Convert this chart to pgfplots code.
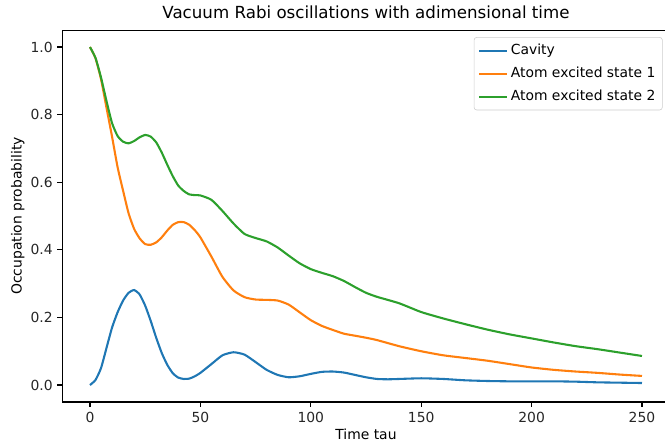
\documentclass[border=0pt]{standalone}
\usepackage{fontspec}
\setmainfont{DejaVu Sans}
\usepackage{pgfplots}
\pgfplotsset{compat=1.18}
\usepackage{pgfplotstable}
\definecolor{c0}{HTML}{1F77B4}
\definecolor{c1}{HTML}{FF7F0E}
\definecolor{c2}{HTML}{2CA02C}
\definecolor{legedge}{gray}{0.8}
\pgfplotstableread{
t v
0 0
2.5 0.015
5 0.05
7.5 0.11
10 0.17
12.5 0.215
15 0.25
17.5 0.273
20 0.281
22.5 0.268
25 0.235
27.5 0.19
30 0.14
32.5 0.095
35 0.06
37.5 0.035
40 0.022
42.5 0.018
45 0.019
47.5 0.026
50 0.036
55 0.062
60 0.088
65 0.097
70 0.09
75 0.068
80 0.045
85 0.03
90 0.023
95 0.026
100 0.033
105 0.039
110 0.04
115 0.037
120 0.03
125 0.023
130 0.018
135 0.017
140 0.018
150 0.02
160 0.018
170 0.014
180 0.012
190 0.011
200 0.011
210 0.011
220 0.01
230 0.008
240 0.007
250 0.006
}\cavity
\pgfplotstableread{
t v
0 1.0
2.5 0.967
5 0.905
7.5 0.82
10 0.735
12.5 0.645
15 0.575
17.5 0.508
20 0.462
22.5 0.434
25 0.417
27.5 0.415
30 0.422
32.5 0.437
35 0.457
37.5 0.474
40 0.482
42.5 0.482
45 0.474
47.5 0.458
50 0.437
55 0.38
60 0.32
65 0.28
70 0.26
75 0.253
80 0.252
85 0.25
90 0.238
95 0.215
100 0.192
105 0.175
110 0.163
115 0.152
120 0.146
125 0.14
130 0.133
140 0.115
150 0.1
160 0.088
170 0.08
180 0.072
190 0.062
200 0.052
210 0.045
220 0.04
230 0.036
240 0.031
250 0.027
}\atomone
\pgfplotstableread{
t v
0 1.0
2.5 0.968
5 0.91
7.5 0.84
10 0.775
12.5 0.737
15 0.72
17.5 0.715
20 0.722
22.5 0.733
25 0.74
27.5 0.735
30 0.718
32.5 0.688
35 0.652
37.5 0.618
40 0.59
42.5 0.574
45 0.564
47.5 0.562
50 0.561
55 0.548
60 0.515
65 0.478
70 0.447
75 0.435
80 0.425
85 0.407
90 0.383
95 0.36
100 0.343
105 0.332
110 0.322
115 0.308
120 0.29
125 0.273
130 0.261
140 0.242
150 0.216
160 0.197
170 0.18
180 0.164
190 0.15
200 0.138
210 0.126
220 0.115
230 0.106
240 0.096
250 0.086
}\atomtwo
\begin{document}
\begin{tikzpicture}
\begin{axis}[
  name=ax,
  scale only axis,
  width=437.2pt, height=267.7pt,
  xmin=-12.5, xmax=262.5, ymin=-0.05, ymax=1.05,
  xtick={0,50,100,150,200,250},
  ytick={0,0.2,0.4,0.6,0.8,1.0},
  yticklabel style={/pgf/number format/.cd, fixed, fixed zerofill, precision=1},
  /pgf/number format/assume math mode=true,
  tick align=outside,
  xtick pos=bottom, ytick pos=left,
  major tick length=3.5pt,
  every tick/.style={line width=0.8pt, black},
  axis line style={line width=0.8pt},
  tick label style={font=\fontsize{10}{12}\selectfont, text=black!85},
  label style={font=\fontsize{10}{12}\selectfont},
  xlabel style={yshift=2pt},
  ylabel style={yshift=-2.5pt},
  title style={font=\fontsize{12}{14}\selectfont, yshift=-1pt},
  title={Vacuum Rabi oscillations with adimensional time},
  xlabel={Time tau},
  ylabel={Occupation probability},
  legend cell align=left,
  legend style={at={(1,1)}, anchor=north east, xshift=-5pt, yshift=-5pt,
    draw=legedge, rounded corners=2pt, font=\fontsize{10}{12}\selectfont,
    row sep=3.5pt, inner xsep=3pt, inner ysep=3pt},
  legend image code/.code={\draw[#1] (0pt,0pt) -- (20pt,0pt);},
]
\addplot[c0, line width=1.5pt, smooth, tension=0.35] table[x=t,y=v] {\cavity};
\addlegendentry{Cavity}
\addplot[c1, line width=1.5pt, smooth, tension=0.35] table[x=t,y=v] {\atomone};
\addlegendentry{Atom excited state 1}
\addplot[c2, line width=1.5pt, smooth, tension=0.35] table[x=t,y=v] {\atomtwo};
\addlegendentry{Atom excited state 2}
\end{axis}
\pgfresetboundingbox
\useasboundingbox ([xshift=-44.9pt,yshift=-29.6pt]ax.south west) rectangle ([xshift=-3.3pt,yshift=21.7pt]ax.north east);
\end{tikzpicture}
\end{document}
